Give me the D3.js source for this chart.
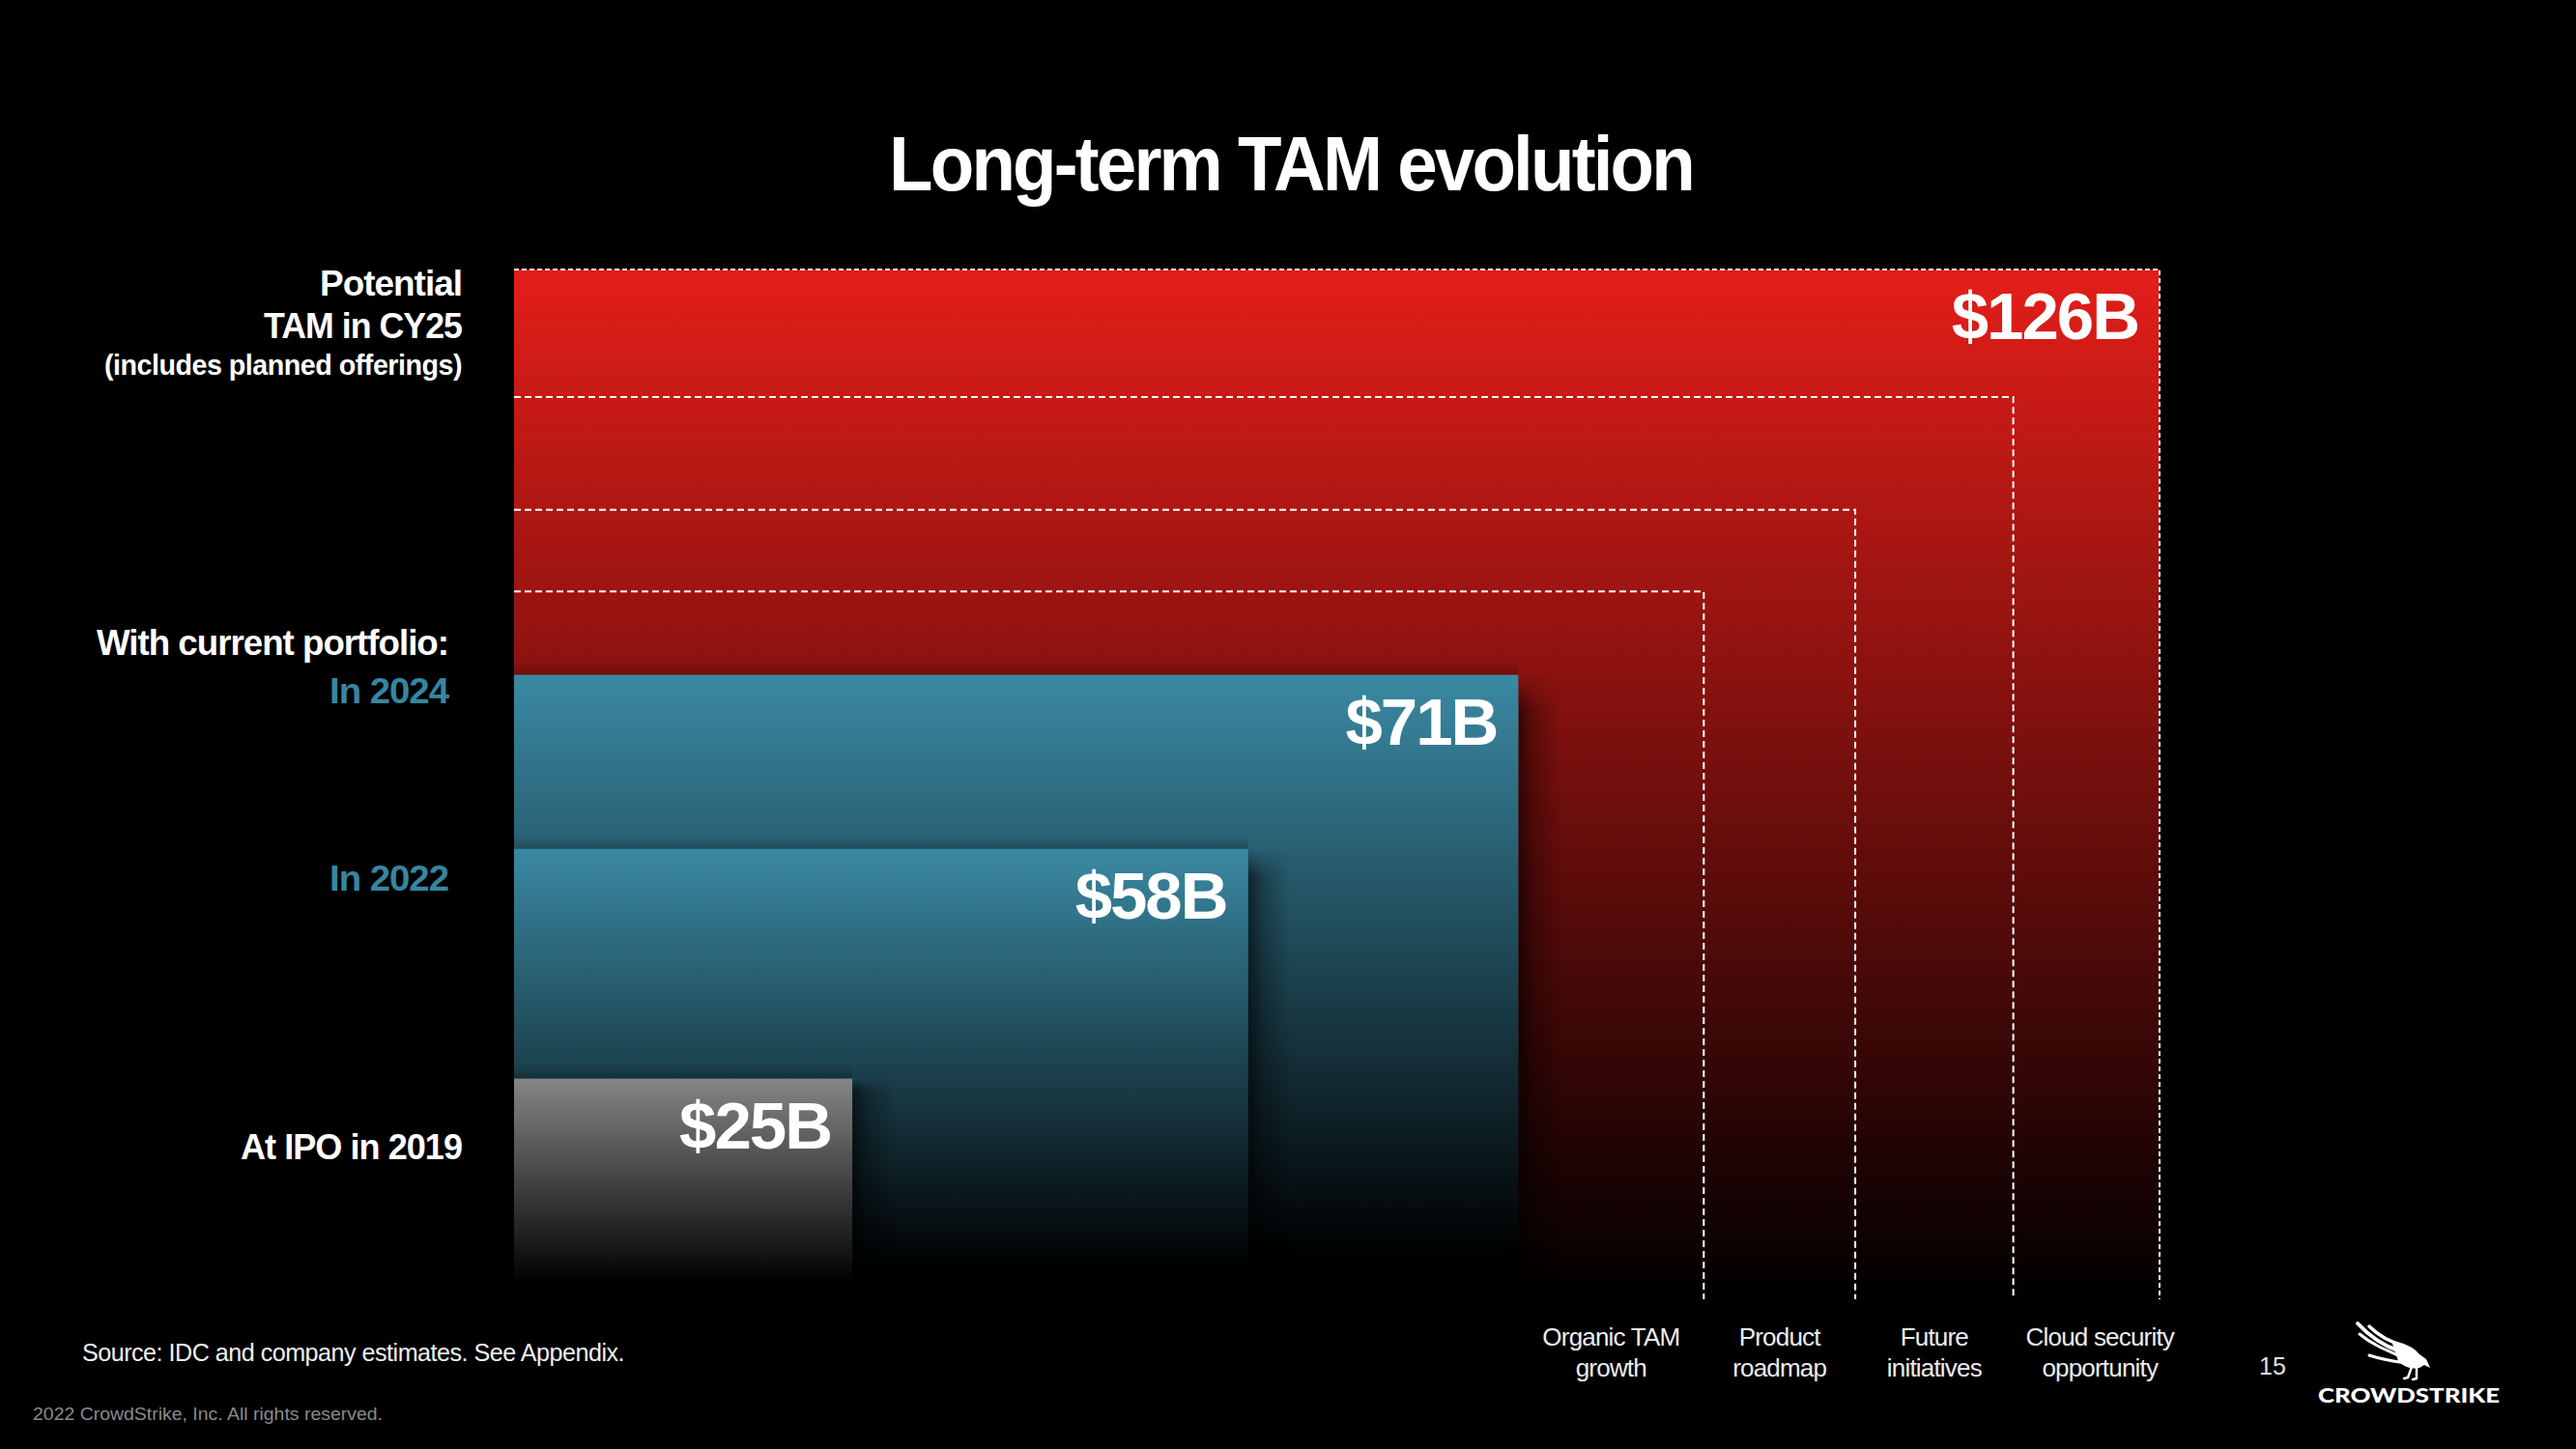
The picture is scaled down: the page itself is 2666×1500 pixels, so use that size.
<!DOCTYPE html>
<html><head><meta charset="utf-8">
<script src="https://cdn.jsdelivr.net/npm/d3@7"></script>
<style>html,body{margin:0;padding:0;background:#000;overflow:hidden}svg{display:block}</style>
</head><body>
<svg id="chart" width="2666" height="1500"></svg>
<script>
// ---- data ----
const tamLabels = ["$25B", "$58B", "$71B", "$126B"];
const tamValues = [25, 58, 71, 126];
const tamKinds = ["ipo", "current", "current", "potential"];
// box extents as drawn, in $B units
const boxWidthB = [25.9, 56.2, 76.9, 126];
const boxHeightB = [27.0, 55.1, 76.4, 126];
const stepNames = [["Organic TAM", "growth"], ["Product", "roadmap"], ["Future", "initiatives"], ["Cloud security", "opportunity"]];
const stepWidthB = [91.1, 102.7, 114.8, 126];
const stepHeightB = [86.6, 96.6, 110.4, 126];
const titleText = "Long-term TAM evolution";
const sourceText = "Source: IDC and company estimates. See Appendix.";
const copyrightText = "2022 CrowdStrike, Inc. All rights reserved.";
const pageNumber = "15";

const svg = d3.select("#chart");
const W = 2666, H = 1500;
svg.append("rect").attr("width", W).attr("height", H).attr("fill", "#000");

const x = d3.scaleLinear().domain([0, 126]).range([532, 2235]);
const y = d3.scaleLinear().domain([0, 126]).range([1345, 279]);

const defs = svg.append("defs");
const colors = { potential: "#e41e19", current: "#3a89a3", ipo: "#858585" };
Object.entries(colors).forEach(([k, c]) => {
  const g = defs.append("linearGradient").attr("id", "g-" + k)
    .attr("x1", 0).attr("y1", 0).attr("x2", 0).attr("y2", 1);
  g.append("stop").attr("offset", 0).attr("stop-color", c);
  g.append("stop").attr("offset", k === "potential" ? 1 : 0.93).attr("stop-color", "#000");
});
const sh = defs.append("linearGradient").attr("id", "sh-right")
  .attr("x1", 0).attr("y1", 0).attr("x2", 1).attr("y2", 0);
sh.append("stop").attr("offset", 0).attr("stop-color", "#000").attr("stop-opacity", 0.6);
sh.append("stop").attr("offset", 0.35).attr("stop-color", "#000").attr("stop-opacity", 0.28);
sh.append("stop").attr("offset", 1).attr("stop-color", "#000").attr("stop-opacity", 0);
const sv = defs.append("linearGradient").attr("id", "sh-fadein")
  .attr("x1", 0).attr("y1", 0).attr("x2", 0).attr("y2", 1);
sv.append("stop").attr("offset", 0).attr("stop-color", "#fff").attr("stop-opacity", 0);
sv.append("stop").attr("offset", 0.06).attr("stop-color", "#fff").attr("stop-opacity", 1);
sv.append("stop").attr("offset", 1).attr("stop-color", "#fff").attr("stop-opacity", 1);
const mask = defs.append("mask").attr("id", "m-fade").attr("maskContentUnits", "objectBoundingBox");
mask.append("rect").attr("width", 1).attr("height", 1).attr("fill", "url(#sh-fadein)");
const st = defs.append("linearGradient").attr("id", "sh-top")
  .attr("x1", 0).attr("y1", 1).attr("x2", 0).attr("y2", 0);
st.append("stop").attr("offset", 0).attr("stop-color", "#000").attr("stop-opacity", 0.22);
st.append("stop").attr("offset", 1).attr("stop-color", "#000").attr("stop-opacity", 0);

const FONT = "'Liberation Sans', Arial, Helvetica, sans-serif";

// ---- potential (red) box ----
svg.append("rect")
  .attr("x", x(0)).attr("y", y(boxHeightB[3]))
  .attr("width", x(boxWidthB[3]) - x(0))
  .attr("height", y(0) - y(boxHeightB[3]))
  .attr("fill", "url(#g-potential)");

// ---- dashed step outlines ----
const steps = stepNames.map((n, i) => ({ n, w: stepWidthB[i], h: stepHeightB[i], i }));
svg.append("g").attr("fill", "none").attr("stroke", "#fff").attr("stroke-width", 2)
  .selectAll("path").data(steps).join("path")
  .attr("stroke-dasharray", d => d.i === 3 ? "5,3" : "7,4")
  .attr("d", d => `M${x(0)},${y(d.h)}H${x(d.w)}V${y(0)}`);

// ---- current portfolio & IPO boxes (with soft shadows) ----
[2, 1, 0].forEach(i => {
  const x0 = x(0), x1 = x(boxWidthB[i]), y1 = y(boxHeightB[i]), y0 = y(0);
  svg.append("rect").attr("x", x1).attr("y", y1).attr("width", 44).attr("height", y0 - y1)
    .attr("fill", "url(#sh-right)").attr("mask", "url(#m-fade)");
  svg.append("rect").attr("x", x0).attr("y", y1 - 14).attr("width", x1 - x0).attr("height", 14)
    .attr("fill", "url(#sh-top)");
  svg.append("rect")
    .attr("x", x0).attr("y", y1)
    .attr("width", x1 - x0)
    .attr("height", y0 - y1)
    .attr("fill", `url(#g-${tamKinds[i]})`);
});

// ---- value labels ----
svg.append("g").selectAll("text").data(tamLabels).join("text")
  .attr("x", (d, i) => x(boxWidthB[i]) - 22)
  .attr("y", (d, i) => y(boxHeightB[i]) + 72)
  .attr("text-anchor", "end")
  .attr("font-family", FONT).attr("font-weight", 700)
  .attr("font-size", 69).attr("letter-spacing", -2)
  .attr("fill", "#fff").text(d => d);

// ---- text helper ----
function txt(s, px, py, o) {
  const t = svg.append("text").attr("x", px).attr("y", py)
    .attr("font-family", FONT)
    .attr("font-weight", o.weight || 400)
    .attr("font-size", o.size)
    .attr("fill", o.fill || "#fff")
    .attr("text-anchor", o.anchor || "start")
    .text(s);
  if (o.ls) t.attr("letter-spacing", o.ls);
  if (o.len) t.attr("textLength", o.len).attr("lengthAdjust", "spacingAndGlyphs");
  return t;
}

// title
txt(titleText, 1336, 197, { size: 80, weight: 700, anchor: "middle", len: 832, ls: -3 });

// row labels
txt("Potential", 478, 306, { size: 37, weight: 700, anchor: "end", len: 147, ls: -1 });
txt("TAM in CY25", 478, 350, { size: 37, weight: 700, anchor: "end", len: 205, ls: -1 });
txt("(includes planned offerings)", 478, 388, { size: 29, weight: 700, anchor: "end", len: 370, ls: -0.5 });
txt("With current portfolio:", 464, 678, { size: 37, weight: 700, anchor: "end", len: 364, ls: -1 });
txt("In 2024", 464, 728, { size: 37, weight: 700, anchor: "end", len: 123, fill: "#3686a2", ls: -1 });
txt("In 2022", 464, 922, { size: 37, weight: 700, anchor: "end", len: 123, fill: "#3686a2", ls: -1 });
txt("At IPO in 2019", 478, 1200, { size: 37, weight: 700, anchor: "end", len: 229, ls: -1 });

// step category labels, centred between boundaries
const bounds = [boxWidthB[2]].concat(stepWidthB);
steps.forEach((d, i) => {
  const cx = (x(bounds[i]) + x(bounds[i + 1])) / 2 + (i === 3 ? 14 : 0);
  txt(d.n[0], cx, 1393, { size: 26, anchor: "middle", fill: "#ececec", ls: -0.8 });
  txt(d.n[1], cx, 1425, { size: 26, anchor: "middle", fill: "#ececec", ls: -0.8 });
});

// footer
txt(sourceText, 85, 1409, { size: 25, fill: "#f0f0f0", len: 561, ls: -0.5 });
txt(copyrightText, 34, 1470, { size: 19, fill: "#8a8a8a", len: 362 });
txt(pageNumber, 2352, 1423, { size: 25, anchor: "middle", fill: "#e0e0e0" });

// logo
const logo = svg.append("g").attr("transform", "translate(2438,1369)");
const lf = logo.append("g").attr("fill", "none").attr("stroke", "#fff").attr("stroke-linecap", "round");
lf.append("path").attr("d", "M2,1 C14,14 28,24 46,30").attr("stroke-width", 4);
lf.append("path").attr("d", "M14,4 C24,14 34,20 50,24").attr("stroke-width", 3.5);
lf.append("path").attr("d", "M4,12 C16,22 30,28 44,34").attr("stroke-width", 3);
lf.append("path").attr("d", "M14,34 C26,38 38,40 52,42").attr("stroke-width", 3);
logo.append("path").attr("fill", "#fff")
  .attr("d", "M38,22 C50,20 60,26 66,33 L73,38 L77,47 L71,44 L66,47 C58,49 50,46 44,40 C42,34 40,28 38,22 Z");
lf.append("path").attr("d", "M58,46 L54,57 M63,47 L63,58 M54,57 L50,58 M63,58 L59,59").attr("stroke-width", 2.5);
txt("CROWDSTRIKE", 2399, 1452, { size: 21, weight: 700, len: 188 }).attr("font-family", "Lato, 'Open Sans', sans-serif").attr("font-weight", 900);
</script>
</body></html>
